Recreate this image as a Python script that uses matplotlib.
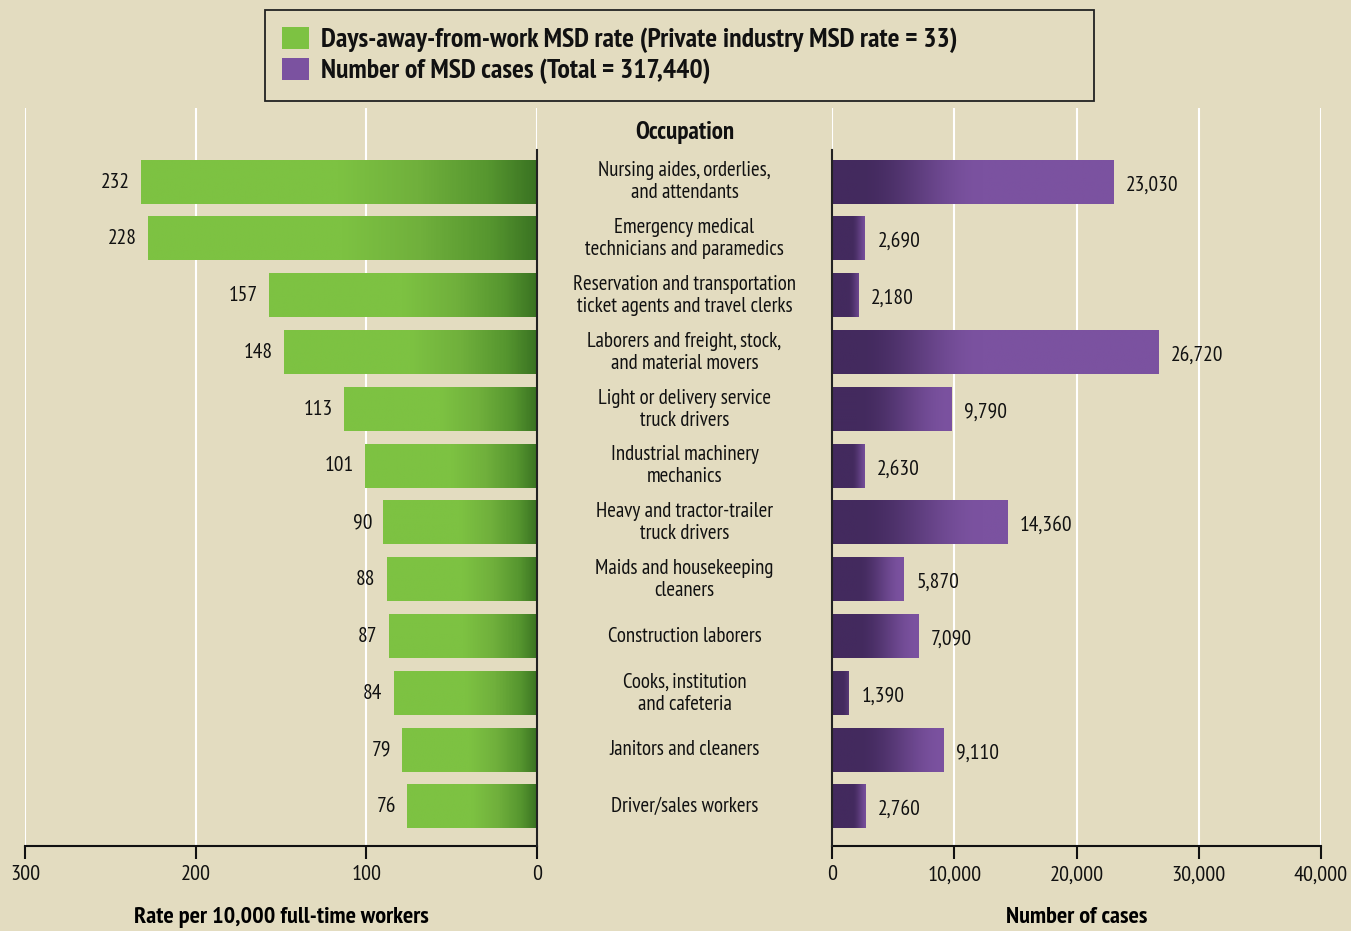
import numpy as np
import matplotlib
matplotlib.use('Agg')
import matplotlib.pyplot as plt
from matplotlib.colors import LinearSegmentedColormap, to_rgb
from matplotlib.patches import Patch
from matplotlib.transforms import blended_transform_factory
from matplotlib.ticker import FuncFormatter

######################## - DATA - #############################

occupations = [
    'Nursing aides, orderlies,\nand attendants',
    'Emergency medical\ntechnicians and paramedics',
    'Reservation and transportation\nticket agents and travel clerks',
    'Laborers and freight, stock,\nand material movers',
    'Light or delivery service\ntruck drivers',
    'Industrial machinery\nmechanics',
    'Heavy and tractor-trailer\ntruck drivers',
    'Maids and housekeeping\ncleaners',
    'Construction laborers',
    'Cooks, institution\nand cafeteria',
    'Janitors and cleaners',
    'Driver/sales workers',
]
msd_rate = [232, 228, 157, 148, 113, 101, 90, 88, 87, 84, 79, 76]
msd_cases = [23030, 2690, 2180, 26720, 9790, 2630, 14360, 5870, 7090, 1390, 9110, 2760]
rate_ticks = [300, 200, 100, 0]
case_ticks = [0, 10000, 20000, 30000, 40000]

BG = '#e3dcc0'
GREEN = '#7dc242'
PURPLE = '#7b52a0'
DARK_PURPLE = '#432a5e'

# condensed face like the original; falls back to condensed DejaVu
plt.rcParams['font.family'] = ['PT Sans Narrow', 'Roboto Condensed', 'Liberation Sans Narrow', 'DejaVu Sans']
plt.rcParams['font.stretch'] = 'condensed'
plt.rcParams['text.color'] = '#111111'
plt.rcParams['xtick.color'] = '#111111'

green_cmap = LinearSegmentedColormap.from_list(
    'g', [(0, '#3a7322'), (0.12, '#56962f'), (0.3, '#70b03c'), (0.5, GREEN), (1, GREEN)])

W, H = 1351, 931
fig = plt.figure(figsize=(W / 100, H / 100), dpi=100, facecolor=BG)

def px_axes(x0, x1, y0, y1):
    return fig.add_axes([x0 / W, 1 - y1 / H, (x1 - x0) / W, (y1 - y0) / H])

ax_l = px_axes(25, 537, 108, 846)
ax_r = px_axes(832, 1321, 108, 846)

ROW = 56.8
ylim = ((846 - 182) / ROW, (108 - 182) / ROW)
spine_top = (150 - 182) / ROW
bar_h = 0.76
N = 300

# left bars: gradient runs along the bar, dark at the zero line
for i, v in enumerate(msd_rate):
    g = np.linspace(0, 1, N).reshape(1, -1)
    ax_l.imshow(g, cmap=green_cmap, aspect='auto', interpolation='bilinear',
                extent=(0, v, i + bar_h / 2, i - bar_h / 2), zorder=3)

# right bars: dark near zero for a fixed stretch, then lighter
px_per_case = 489 / 40000
c0, c1 = np.array(to_rgb(DARK_PURPLE)), np.array(to_rgb(PURPLE))
for i, v in enumerate(msd_cases):
    w = v * px_per_case
    p = np.linspace(0, w, N)
    p0 = min(26, 0.6 * w)
    p1 = max(min(150, w), p0 + 16)
    t = np.clip((p - p0) / (p1 - p0), 0, 1)
    t = t * t * (3 - 2 * t)
    img = (c0[None, :] * (1 - t[:, None]) + c1[None, :] * t[:, None])[None, :, :]
    ax_r.imshow(img, aspect='auto', interpolation='bilinear',
                extent=(0, v, i + bar_h / 2, i - bar_h / 2), zorder=3)

for ax, ticks in [(ax_l, rate_ticks), (ax_r, case_ticks)]:
    ax.set_facecolor(BG)
    for t in ticks:
        ax.axvline(t, color='white', lw=1.5, zorder=1)
    ax.set_ylim(*ylim)
    ax.set_yticks([])
    ax.set_xticks(ticks)
    for s in ['top', 'left', 'right']:
        ax.spines[s].set_visible(False)
    ax.spines['bottom'].set_linewidth(1.5)
    ax.spines['bottom'].set_color('#111111')
    ax.tick_params(axis='x', length=9, width=1.5, labelsize=16, pad=5)
    ax.plot([0, 0], [spine_top, ylim[0]], color='#222222', lw=1.5, zorder=4, clip_on=False)

ax_l.set_xlim(300, 0)
ax_r.set_xlim(0, 40000)
ax_r.xaxis.set_major_formatter(FuncFormatter(lambda v, p: f'{int(v):,}'))

for i, v in enumerate(msd_rate):
    ax_l.annotate(f'{v}', (v, i), xytext=(-8, 0), textcoords='offset points',
                  ha='right', va='center', fontsize=15.5)
for i, v in enumerate(msd_cases):
    ax_r.annotate(f'{v:,}', (v, i), xytext=(9, -2), textcoords='offset points',
                  ha='left', va='center', fontsize=15.5)

ax_l.set_xlabel('Rate per 10,000 full-time workers', fontsize=17.5, fontweight='bold', labelpad=16)
ax_r.set_xlabel('Number of cases', fontsize=17.5, fontweight='bold', labelpad=16)

trans = blended_transform_factory(fig.transFigure, ax_l.transData)
cx = 684.5 / W
for i, name in enumerate(occupations):
    fig.text(cx, i, name, transform=trans, ha='center', va='center',
             fontsize=15, linespacing=1.2)
fig.text(cx, (132 - 182) / ROW, 'Occupation', transform=trans, ha='center',
         va='center', fontsize=18, fontweight='bold')

handles = [Patch(facecolor=GREEN, edgecolor='none'), Patch(facecolor=PURPLE, edgecolor='none')]
labels = ['Days-away-from-work MSD rate (Private industry MSD rate = 33)',
          'Number of MSD cases (Total = 317,440)']
leg = fig.legend(handles, labels, loc='upper left', mode='expand',
                 bbox_to_anchor=(265 / W, 1 - 103 / H, 829 / W, 93 / H),
                 frameon=True, fancybox=False, edgecolor='#222222', facecolor=BG,
                 framealpha=1, prop={'size': 20, 'weight': 'bold'}, handlelength=1.0,
                 handleheight=0.85, handletextpad=0.4, borderpad=0.6, labelspacing=0.15,
                 borderaxespad=0)
leg.get_frame().set_linewidth(1.3)
for txt in leg.get_texts():
    txt.set_color('#111111')

fig.savefig('out.png', dpi=100, facecolor=BG)
